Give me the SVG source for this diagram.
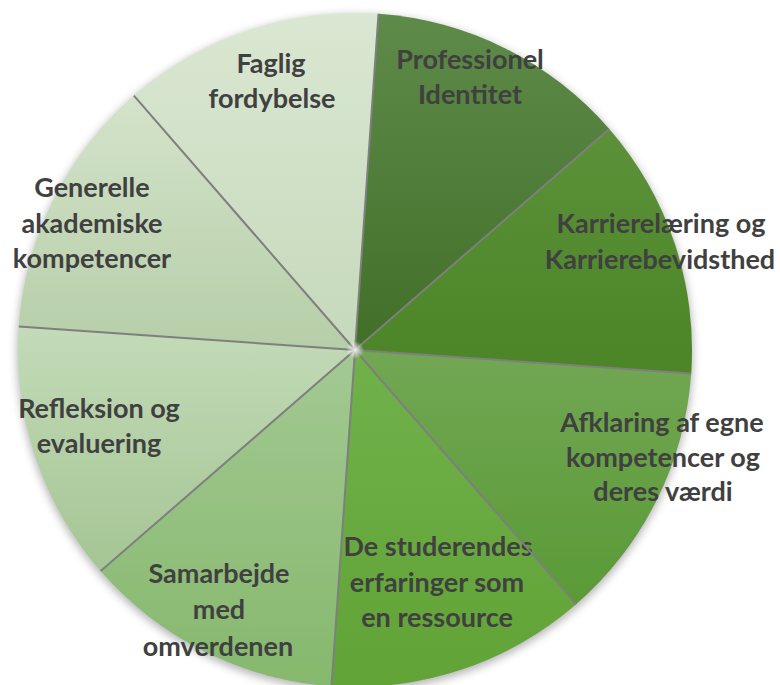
<svg xmlns="http://www.w3.org/2000/svg" width="780" height="685" viewBox="0 0 780 685">
<defs>
<style>
.lbl{font-family:Lato,"Open Sans","Liberation Sans",sans-serif;font-weight:700;font-size:27px;fill:#404040;text-anchor:middle}
.spoke{stroke:#7f7f7f;stroke-width:2;fill:none}
</style>
<filter id="sh" x="-10%" y="-10%" width="120%" height="120%">
<feGaussianBlur stdDeviation="4"/>
</filter>
<radialGradient id="glow" cx="0.5" cy="0.5" r="0.5">
<stop offset="0" stop-color="#ffffff" stop-opacity="0.9"/>
<stop offset="1" stop-color="#ffffff" stop-opacity="0"/>
</radialGradient>
<linearGradient id="g1" x1="0" y1="0" x2="0" y2="1"><stop offset="0" stop-color="#5f8b4a"/><stop offset="1" stop-color="#416f28"/></linearGradient>
<linearGradient id="g2" x1="0" y1="0" x2="0" y2="1"><stop offset="0" stop-color="#5c9139"/><stop offset="1" stop-color="#4b8527"/></linearGradient>
<linearGradient id="g3" x1="0" y1="0" x2="0" y2="1"><stop offset="0" stop-color="#72a754"/><stop offset="1" stop-color="#5a9a36"/></linearGradient>
<linearGradient id="g4" x1="0" y1="0" x2="0" y2="1"><stop offset="0" stop-color="#70b14a"/><stop offset="1" stop-color="#62a337"/></linearGradient>
<linearGradient id="g5" x1="0" y1="0" x2="0" y2="1"><stop offset="0" stop-color="#a3c993"/><stop offset="1" stop-color="#86b86d"/></linearGradient>
<linearGradient id="g6" x1="0" y1="0" x2="0" y2="1"><stop offset="0" stop-color="#c3dbb8"/><stop offset="1" stop-color="#a5c594"/></linearGradient>
<linearGradient id="g7" x1="0" y1="0" x2="0" y2="1"><stop offset="0" stop-color="#d4e3ca"/><stop offset="1" stop-color="#b6cea8"/></linearGradient>
<linearGradient id="g8" x1="0" y1="0" x2="0" y2="1"><stop offset="0" stop-color="#dae7d2"/><stop offset="1" stop-color="#c6d9bb"/></linearGradient>
</defs>
<rect width="780" height="685" fill="#ffffff"/>
<circle cx="355" cy="353" r="338" fill="#7a7a7a" opacity="0.55" filter="url(#sh)"/>

<g id="professionel-identitet">
<path d="M355,350 L378.5,13.8 A337,337 0 0 1 609.3,128.9 Z" fill="url(#g1)"/>
<text class="lbl" x="470" y="69">Professionel</text>
<text class="lbl" x="470" y="104">Identitet</text>
</g>
<g id="karrierelaering">
<path d="M355,350 L609.3,128.9 A337,337 0 0 1 691.2,373.5 Z" fill="url(#g2)"/>
<text class="lbl" x="661" y="233">Karrierelæring og</text>
<text class="lbl" x="660" y="269">Karrierebevidsthed</text>
</g>
<g id="afklaring">
<path d="M355,350 L691.2,373.5 A337,337 0 0 1 576.1,604.3 Z" fill="url(#g3)"/>
<text class="lbl" x="662" y="432">Afklaring af egne</text>
<text class="lbl" x="663" y="467">kompetencer og</text>
<text class="lbl" x="663" y="501">deres værdi</text>
</g>
<g id="studerendes-erfaringer">
<path d="M355,350 L576.1,604.3 A337,337 0 0 1 331.5,686.2 Z" fill="url(#g4)"/>
<text class="lbl" x="438" y="556">De studerendes</text>
<text class="lbl" x="437" y="592">erfaringer som</text>
<text class="lbl" x="437" y="627">en ressource</text>
</g>
<g id="samarbejde">
<path d="M355,350 L331.5,686.2 A337,337 0 0 1 100.7,571.1 Z" fill="url(#g5)"/>
<text class="lbl" x="219" y="583">Samarbejde</text>
<text class="lbl" x="219" y="619">med</text>
<text class="lbl" x="218" y="656">omverdenen</text>
</g>
<g id="refleksion">
<path d="M355,350 L100.7,571.1 A337,337 0 0 1 18.8,326.5 Z" fill="url(#g6)"/>
<text class="lbl" x="99" y="418">Refleksion og</text>
<text class="lbl" x="99" y="453">evaluering</text>
</g>
<g id="generelle">
<path d="M355,350 L18.8,326.5 A337,337 0 0 1 133.9,95.7 Z" fill="url(#g7)"/>
<text class="lbl" x="92" y="197">Generelle</text>
<text class="lbl" x="92" y="233">akademiske</text>
<text class="lbl" x="92" y="268">kompetencer</text>
</g>
<g id="faglig">
<path d="M355,350 L133.9,95.7 A337,337 0 0 1 378.5,13.8 Z" fill="url(#g8)"/>
<text class="lbl" x="271" y="73">Faglig</text>
<text class="lbl" x="272" y="108">fordybelse</text>
</g>

<g id="spokes">
<path class="spoke" d="M355,350 L378.5,13.8 M355,350 L609.3,128.9 M355,350 L691.2,373.5 M355,350 L576.1,604.3 M355,350 L331.5,686.2 M355,350 L100.7,571.1 M355,350 L18.8,326.5 M355,350 L133.9,95.7"/>
<circle cx="355" cy="350" r="9" fill="url(#glow)"/>
</g>
</svg>
